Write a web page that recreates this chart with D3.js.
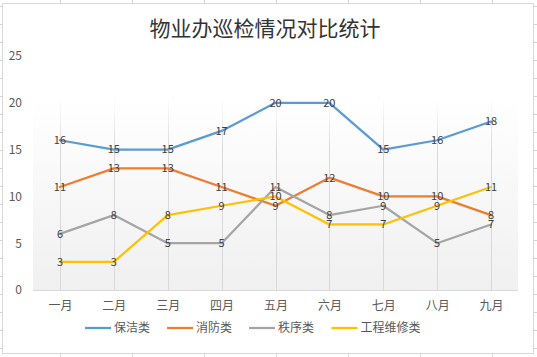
<!DOCTYPE html>
<html><head><meta charset="utf-8">
<script src="https://cdn.jsdelivr.net/npm/d3@7"></script>
<style>body{margin:0;background:#fff}svg{display:block}</style>
</head><body>
<script>
const title = "物业办巡检情况对比统计";
const months = ["一月","二月","三月","四月","五月","六月","七月","八月","九月"];
const seriesNames = ["保洁类","消防类","秩序类","工程维修类"];
const cleaning = [16,15,15,17,20,20,15,16,18];
const fire = [11,13,13,11,9,12,10,10,8];
const order = [6,8,5,5,11,8,9,5,7];
const maintenance = [3,3,8,9,10,7,7,9,11];
const yTicks = [0,5,10,15,20,25];
const colors = ["#5B9BD5","#ED7D31","#A5A5A5","#FFC000"];
const allSeries = [cleaning, fire, order, maintenance];

(function(){
const W = 537, H = 357;
const font = "'Noto Sans CJK SC','Noto Sans',sans-serif";
const svg = d3.select("body").append("svg").attr("width", W).attr("height", H);
const defs = svg.append("defs");

// spreadsheet grid behind chart
const sheet = svg.append("g");
d3.range(60, W, 72).forEach(xx => sheet.append("line").attr("x1", xx + .5).attr("x2", xx + .5).attr("y1", 0).attr("y2", H).attr("stroke", "#d4d4d4"));
d3.range(6, H, 18).forEach(yy => sheet.append("line").attr("y1", yy + .5).attr("y2", yy + .5).attr("x1", 0).attr("x2", W).attr("stroke", "#d4d4d4"));

// chart area
svg.append("rect").attr("x", 2.5).attr("y", 3.5).attr("width", 531).attr("height", 350)
  .attr("fill", "#fff").attr("stroke", "#d9d9d9");

const pL = 33, pR = 518, pT = 56, pB = 290;
const x = d3.scalePoint().domain(months).range([pL, pR]).padding(0.5);
const y = d3.scaleLinear().domain([0, 25]).range([pB, pT]);

const g1 = defs.append("linearGradient").attr("id", "pa").attr("x1", 0).attr("x2", 0).attr("y1", 0).attr("y2", 1);
g1.append("stop").attr("offset", "0%").attr("stop-color", "#ffffff");
g1.append("stop").attr("offset", "100%").attr("stop-color", "#f0f0f0");
svg.append("rect").attr("x", pL).attr("y", 98).attr("width", pR - pL).attr("height", pB - 98).attr("fill", "url(#pa)");

const g2 = defs.append("linearGradient").attr("id", "gl").attr("gradientUnits", "userSpaceOnUse")
  .attr("x1", 0).attr("x2", 0).attr("y1", 98).attr("y2", 150);
g2.append("stop").attr("offset", "0%").attr("stop-color", "#d9d9d9").attr("stop-opacity", 0);
g2.append("stop").attr("offset", "100%").attr("stop-color", "#d9d9d9").attr("stop-opacity", 1);
svg.append("g").selectAll("rect").data(months).join("rect")
  .attr("x", d => Math.round(x(d))).attr("width", 1)
  .attr("y", 98).attr("height", pB - 98).attr("fill", "url(#gl)");

// x axis
const xa = svg.append("g").attr("transform", `translate(0,${pB + .5})`)
  .call(d3.axisBottom(x).tickSize(0).tickPadding(11));
xa.select(".domain").attr("stroke", "#d9d9d9").attr("d", `M${pL},0H${pR}`);
xa.selectAll("text").attr("fill", "#595959").style("font-family", font).style("font-size", "12px");

// y axis
const ya = svg.append("g").attr("transform", `translate(22,0)`)
  .call(d3.axisLeft(y).tickValues(yTicks).tickSize(0).tickPadding(0));
ya.select(".domain").remove();
ya.selectAll("text").attr("fill", "#595959").style("font-family", font).style("font-size", "12px");

// lines
const line = d3.line().x((d, i) => x(months[i])).y(d => y(d));
allSeries.forEach((s, k) => {
  svg.append("path").datum(s).attr("d", line).attr("fill", "none")
    .attr("stroke", colors[k]).attr("stroke-width", 2.25).attr("stroke-linejoin", "round").attr("stroke-linecap", "round");
});
allSeries.forEach((s, k) => {
  svg.append("g").selectAll("text").data(s).join("text")
    .attr("x", (d, i) => x(months[i])).attr("y", d => y(d)).attr("dy", "0.35em")
    .attr("text-anchor", "middle").attr("fill", "#404040")
    .style("font-family", font).style("font-size", "11px").text(d => d);
});

// title
svg.append("text").attr("x", 265).attr("y", 29).attr("dy", "0.35em").attr("text-anchor", "middle")
  .attr("fill", "#333").style("font-family", font).style("font-size", "21px").text(title);

// legend
const legX = [85, 167, 249, 331.5];
const lg = svg.append("g");
seriesNames.forEach((n, k) => {
  lg.append("line").attr("x1", legX[k]).attr("x2", legX[k] + 26).attr("y1", 328).attr("y2", 328)
    .attr("stroke", colors[k]).attr("stroke-width", 2.25);
  lg.append("text").attr("x", legX[k] + 29).attr("y", 328).attr("dy", "0.35em").attr("fill", "#595959")
    .style("font-family", font).style("font-size", "12px").text(n);
});
})();
</script>
</body></html>
